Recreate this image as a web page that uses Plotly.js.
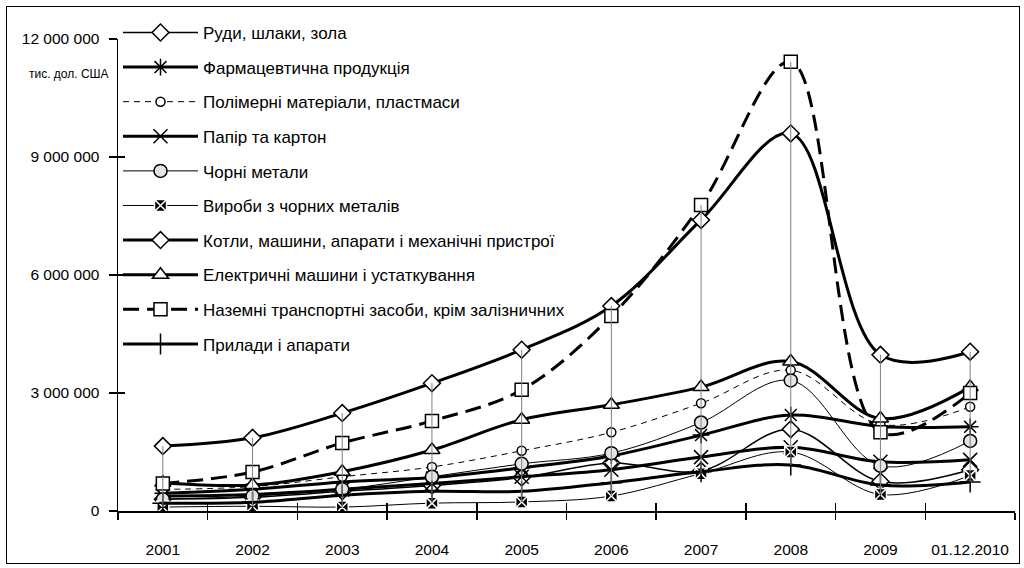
<!DOCTYPE html>
<html><head><meta charset="utf-8">
<script src="https://cdn.plot.ly/plotly-3.0.1.min.js"></script>
<style>
html,body{margin:0;padding:0;background:#fff;}
#wrap{position:relative;width:1024px;height:568px;}
#chart{position:absolute;left:0;top:0;width:1024px;height:568px;}
#frame{position:absolute;left:6px;top:6px;width:1012px;height:556px;border:1.5px solid #000;pointer-events:none;}
</style></head>
<body><div id="wrap"><div id="chart"></div><div id="frame"></div></div>
<script>
const categories = ['2001','2002','2003','2004','2005','2006','2007','2008','2009','01.12.2010'];
const ores        = [300000, 350000, 500000, 650000, 850000, 1220000, 1020000, 2080000, 750000, 1050000];
const pharma      = [450000, 550000, 740000, 850000, 1100000, 1400000, 1930000, 2440000, 2150000, 2140000];
const polymers    = [550000, 620000, 870000, 1120000, 1530000, 2000000, 2740000, 3580000, 2200000, 2650000];
const paper       = [380000, 420000, 550000, 700000, 870000, 1050000, 1370000, 1620000, 1250000, 1300000];
const ferrous     = [300000, 380000, 550000, 870000, 1200000, 1470000, 2250000, 3320000, 1150000, 1780000];
const ferrousProd = [100000, 120000, 100000, 200000, 230000, 380000, 950000, 1500000, 420000, 900000];
const machines    = [1650000, 1860000, 2490000, 3250000, 4100000, 5210000, 7400000, 9600000, 3970000, 4050000];
const electric    = [720000, 660000, 1000000, 1550000, 2320000, 2700000, 3150000, 3800000, 2350000, 3150000];
const vehicles    = [700000, 990000, 1730000, 2290000, 3080000, 4960000, 7780000, 11420000, 2000000, 3000000];
const instruments = [200000, 220000, 400000, 500000, 500000, 720000, 1000000, 1170000, 660000, 740000];
const yTicks = [0, 3000000, 6000000, 9000000, 12000000];
const unitLabel = 'тис. дол. США';

const names = ['Руди, шлаки, зола','Фармацевтична продукція','Полімерні матеріали, пластмаси','Папір та картон','Чорні метали','Вироби з чорних металів','Котли, машини, апарати і механічні пристрої','Електричні машини і устаткування','Наземні транспортні засоби, крім залізничних','Прилади і апарати'];
const seriesData = [ores, pharma, polymers, paper, ferrous, ferrousProd, machines, electric, vehicles, instruments];
const styles = [
  {w:1.5, dash:'solid', sym:'diamond', size:13, fill:'#fff', lc:'#000'},
  {w:3, dash:'solid', sym:'asterisk-open', size:14, fill:'#000', lc:'#000'},
  {w:1, dash:'6px,5px', sym:'circle', size:9, fill:'#fff', lc:'#000'},
  {w:3, dash:'solid', sym:'x-thin-open', size:14, fill:'#000', lc:'#000'},
  {w:1, dash:'solid', sym:'circle', size:13, fill:'#e4e4e4', lc:'#000'},
  {w:1, dash:'solid', sym:'square-x', size:12, fill:'#000', lc:'#fff'},
  {w:3, dash:'solid', sym:'diamond', size:13, fill:'#fff', lc:'#000'},
  {w:3, dash:'solid', sym:'triangle-up', size:14, fill:'#fff', lc:'#000'},
  {w:3, dash:'16px,8px', sym:'square', size:13, fill:'#fff', lc:'#000'},
  {w:3, dash:'solid', sym:'cross-thin-open', size:15, fill:'#000', lc:'#000'}
];

// high-low lines from data
const hx = [], hy = [];
categories.forEach((c, i) => {
  const vals = seriesData.map(s => s[i]);
  hx.push(c, c, null);
  hy.push(Math.min(...vals), Math.max(...vals), null);
});

const traces = [{
  x: hx, y: hy, mode: 'lines', xaxis: 'x2', yaxis: 'y2',
  line: {color: '#808080', width: 1}, showlegend: false, hoverinfo: 'skip'
}];
seriesData.forEach((s, i) => {
  const st = styles[i];
  traces.push({
    x: categories, y: s, name: names[i], mode: 'lines+markers', legendgroup: 'g' + i,
    line: {color: '#000', width: st.w, dash: st.dash, shape: 'spline', smoothing: 1},
    marker: {symbol: st.sym, size: st.size, color: st.fill, line: {color: st.lc, width: 1.5}}
  });
});

const xRange = [-0.5, categories.length - 0.5];
const font = 'Liberation Sans, Arial, sans-serif';
const layout = {
  width: 1024, height: 568,
  margin: {l: 118, r: 9, t: 39, b: 57},
  paper_bgcolor: '#fff', plot_bgcolor: '#fff',
  separators: ', ',
  font: {family: font, size: 15.5, color: '#000'},
  showlegend: true,
  legend: {x: 0, y: 1.051, xanchor: 'left', yanchor: 'top', bgcolor: 'rgba(0,0,0,0)', maxheight: 540,
    font: {family: font, size: 17, color: '#000'}, tracegroupgap: 9.5, itemwidth: 75},
  xaxis: {type: 'category', range: xRange, autorange: false, tickson: 'boundaries', ticks: 'outside', ticklen: 7, tickwidth: 1.5, tickcolor: '#000',
    showline: true, linecolor: '#000', linewidth: 1.5, showgrid: false, zeroline: false, tickangle: 0,
    ticklabelstandoff: 24, tickfont: {family: font, size: 15.5}},
  yaxis: {range: [0, 12000000], tickvals: yTicks, tickformat: ',d', ticks: 'outside', ticklen: 8, tickwidth: 1.5, tickcolor: '#000',
    showline: true, linecolor: '#000', linewidth: 1.5, showgrid: false, zeroline: false,
    ticklabelstandoff: 6, tickfont: {family: font, size: 15.5}},
  xaxis2: {overlaying: 'x', matches: 'x', type: 'category', tickson: 'boundaries', ticks: 'inside', ticklen: 8, tickwidth: 1.5, tickcolor: '#000',
    showticklabels: false, showline: false, showgrid: false, zeroline: false},
  yaxis2: {overlaying: 'y', matches: 'y', side: 'left', tickvals: yTicks, ticks: 'inside', ticklen: 7, tickwidth: 1.5, tickcolor: '#000',
    showticklabels: false, showline: false, showgrid: false, zeroline: false},
  annotations: [{xref: 'paper', yref: 'paper', x: -0.008, y: 0.925, xanchor: 'right', yanchor: 'middle',
    text: unitLabel, showarrow: false, font: {family: font, size: 12, color: '#000'}}]
};
Plotly.newPlot('chart', traces, layout, {displayModeBar: false, staticPlot: true});
</script></body></html>
